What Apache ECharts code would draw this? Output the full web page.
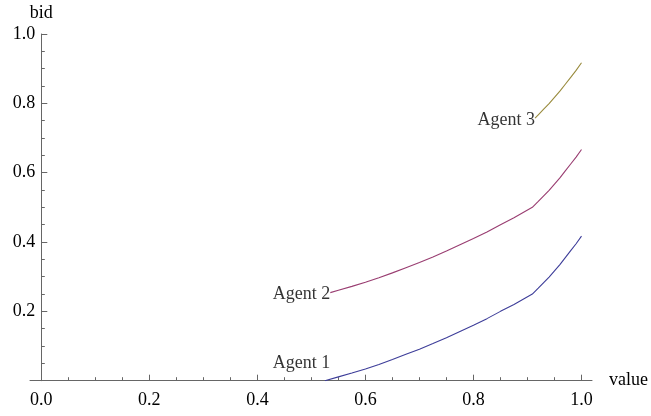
<!DOCTYPE html>
<html>
<head>
<meta charset="utf-8">
<script src="https://cdn.jsdelivr.net/npm/echarts@6/dist/echarts.min.js"></script>
<style>
html,body{margin:0;padding:0;background:#fff;}
#chart{width:651px;height:416px;}
</style>
</head>
<body>
<div id="chart"></div>
<script>
// ---- data ----
var agent1X = [0.525, 0.55, 0.575, 0.60, 0.625, 0.65, 0.675, 0.70, 0.725, 0.75, 0.775, 0.80, 0.825, 0.85, 0.875, 0.909, 0.92, 0.93, 0.94, 0.95, 0.96, 0.97, 0.98, 0.99, 1.0];
var agent1Y = [0.0, 0.011, 0.022, 0.034, 0.047, 0.061, 0.076, 0.091, 0.107, 0.124, 0.142, 0.160, 0.179, 0.200, 0.220, 0.250, 0.267, 0.283, 0.299, 0.317, 0.335, 0.355, 0.375, 0.395, 0.417];
var agent2X = [0.535, 0.55, 0.575, 0.60, 0.625, 0.65, 0.675, 0.70, 0.725, 0.75, 0.775, 0.80, 0.825, 0.85, 0.875, 0.909, 0.92, 0.93, 0.94, 0.95, 0.96, 0.97, 0.98, 0.99, 1.0];
var agent2Y = [0.254, 0.261, 0.272, 0.284, 0.297, 0.311, 0.326, 0.341, 0.357, 0.374, 0.392, 0.410, 0.429, 0.450, 0.470, 0.500, 0.517, 0.533, 0.549, 0.567, 0.585, 0.605, 0.625, 0.645, 0.667];
var agent3X = [0.914, 0.92, 0.93, 0.94, 0.95, 0.96, 0.97, 0.98, 0.99, 1.0];
var agent3Y = [0.757, 0.767, 0.783, 0.799, 0.817, 0.835, 0.855, 0.875, 0.895, 0.917];
var labelNames = ['Agent 1', 'Agent 2', 'Agent 3'];
var labelX = [0.535, 0.535, 0.914];
var labelY = [0.051, 0.25, 0.752];
var xTickValues = [0, 0.2, 0.4, 0.6, 0.8, 1.0];
var yTickValues = [0.2, 0.4, 0.6, 0.8, 1.0];
var xName = 'value';
var yName = 'bid';

function pairs(xs, ys) { return xs.map(function (x, i) { return [x, ys[i]]; }); }

var FONT = '"Liberation Serif", "DejaVu Serif", serif';
var AX = '#666666';
var colors = ['#3d3d99', '#993d71', '#998b3d'];

var chart = echarts.init(document.getElementById('chart'), null, {renderer: 'canvas'});
var option = {
  animation: false,
  backgroundColor: '#ffffff',
  grid: [
    {left: 41.3, right: 69.5, top: 34, bottom: 35.3, containLabel: false},
    {left: 30, right: 58.7, top: 34, bottom: 35.3, containLabel: false}
  ],
  xAxis: [
    {
      type: 'value', gridIndex: 0, min: 0, max: 1, interval: 0.2,
      axisLine: {show: false},
      axisTick: {show: true, inside: true, length: 6, lineStyle: {color: AX, width: 1}},
      minorTick: {show: true, splitNumber: 4, length: 3.5, lineStyle: {color: AX, width: 1}},
      splitLine: {show: false},
      axisLabel: {
        margin: 11, color: '#000', fontFamily: FONT, fontSize: 18,
        formatter: function (v) { return xTickValues.indexOf(Math.round(v * 10) / 10) >= 0 ? v.toFixed(1) : ''; }
      }
    },
    {
      type: 'value', gridIndex: 1, min: 0, max: 1,
      axisLine: {show: true, lineStyle: {color: AX, width: 1}},
      axisTick: {show: false}, axisLabel: {show: false}, splitLine: {show: false},
      name: xName, nameLocation: 'end', nameGap: 17,
      nameTextStyle: {color: '#000', fontFamily: FONT, fontSize: 18, verticalAlign: 'middle', padding: [5, 0, 0, 0]}
    }
  ],
  yAxis: [
    {
      type: 'value', gridIndex: 0, min: 0, max: 1, interval: 0.2,
      axisLine: {show: true, onZero: false, lineStyle: {color: AX, width: 1}},
      axisTick: {show: true, inside: true, length: 6, lineStyle: {color: AX, width: 1}},
      minorTick: {show: true, splitNumber: 4, length: 3.5, lineStyle: {color: AX, width: 1}},
      splitLine: {show: false},
      axisLabel: {
        margin: 6, color: '#000', fontFamily: FONT, fontSize: 18,
        formatter: function (v) { return yTickValues.indexOf(Math.round(v * 10) / 10) >= 0 ? v.toFixed(1) : ''; }
      },
      name: yName, nameLocation: 'end', nameGap: 12,
      nameTextStyle: {color: '#000', fontFamily: FONT, fontSize: 18, align: 'center'}
    },
    {
      type: 'value', gridIndex: 1, min: 0, max: 1, show: false
    }
  ],
  series: [
    {type: 'line', name: labelNames[0], xAxisIndex: 0, yAxisIndex: 0, data: pairs(agent1X, agent1Y),
     showSymbol: false, symbol: 'none', lineStyle: {color: colors[0], width: 1.1}, silent: true},
    {type: 'line', name: labelNames[1], xAxisIndex: 0, yAxisIndex: 0, data: pairs(agent2X, agent2Y),
     showSymbol: false, symbol: 'none', lineStyle: {color: colors[1], width: 1.1}, silent: true},
    {type: 'line', name: labelNames[2], xAxisIndex: 0, yAxisIndex: 0, data: pairs(agent3X, agent3Y),
     showSymbol: false, symbol: 'none', lineStyle: {color: colors[2], width: 1.1}, silent: true},
    {type: 'scatter', xAxisIndex: 0, yAxisIndex: 0, symbolSize: 0, silent: true,
     data: labelNames.map(function (n, i) { return {name: n, value: [labelX[i], labelY[i]]}; }),
     label: {show: true, position: 'left', distance: 0, formatter: '{b}', color: '#000', fontFamily: FONT, fontSize: 18}}
  ]
};
chart.setOption(option);
</script>
</body>
</html>
